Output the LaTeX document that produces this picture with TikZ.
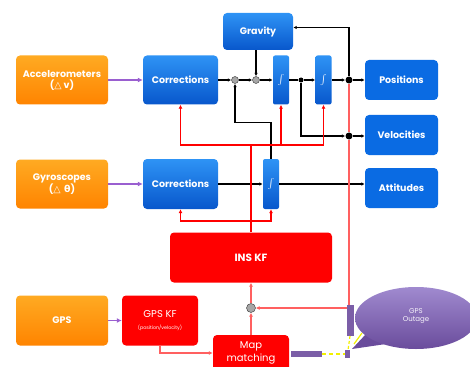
\documentclass[tikz,border=0pt]{standalone}
\usepackage{fontspec}
\setmainfont{Poppins}
\newfontfamily\symfont{DejaVu Sans}
\usetikzlibrary{arrows.meta}
\definecolor{bluetop}{HTML}{2E93F5}
\definecolor{bluebot}{HTML}{0857CC}
\definecolor{outblue}{HTML}{0A6BE3}
\definecolor{orangetop}{HTML}{FFAA22}
\definecolor{orangebot}{HTML}{FF8400}
\definecolor{kfred}{HTML}{FF0000}
\definecolor{lightred}{HTML}{FF6060}
\definecolor{feedpurple}{HTML}{9A5FD0}
\definecolor{bubbletop}{HTML}{A08ACF}
\definecolor{bubblebot}{HTML}{6A4C9C}
\definecolor{barpurple}{HTML}{7B5EA7}
\definecolor{dashyellow}{HTML}{F2F000}
\begin{document}
\begin{tikzpicture}[
        x=1pt,
        y=-1pt,
        blk/.style={rounded corners=4pt, text=white, align=center, inner sep=0pt,
            font=\bfseries\fontsize{9.5}{11}\selectfont},
        sensor/.style={blk, top color=orangetop, bottom color=orangebot,
            minimum width=92pt, minimum height=49pt},
        proc/.style={blk, top color=bluetop, bottom color=bluebot,
            minimum width=75pt, minimum height=49pt},
        integ/.style={blk, rounded corners=2pt, top color=bluetop, bottom color=bluebot,
            minimum width=16pt, minimum height=49pt, font=\normalfont},
        outbox/.style={blk, fill=outblue, minimum width=73pt, minimum height=40pt},
        kf/.style={blk, fill=kfred, font=\fontsize{10}{12.5}\selectfont},
        sum/.style={circle, draw=black!80, fill=gray!70, inner sep=0pt, minimum size=7pt},
        jdot/.style={circle, fill=black, inner sep=0pt, minimum size=7pt},
        wire/.style={draw=black, line width=1.2pt, -{Latex[length=3.5pt,width=3.5pt]}},
        fb/.style={draw=kfred, line width=1.3pt, -{Latex[length=4pt,width=4pt]}},
        fblight/.style={fb, draw=lightred},
        feed/.style={draw=feedpurple, line width=1.3pt, -{Latex[length=5pt,width=5pt]}}]
\useasboundingbox (0,0) rectangle (470,366);
\clip (0,0) rectangle (470,366);

\node[sensor] (acc) at (62,80) {Accelerometers\\({\symfont △} v)};
\node[sensor] (gyro) at (62,184) {Gyroscopes\\({\symfont △ θ})};
\node[sensor, minimum height=50pt] (gps) at (62,320.5) {GPS};
\node[proc] (corr1) at (180.5,80) {Corrections};
\node[proc, minimum height=50pt] (corr2) at (180.5,184) {Corrections};
\node[proc, minimum width=70pt, minimum height=37pt] (grav) at (258,31.5) {Gravity};
\node[integ] (i1) at (281,80) {$\int$};
\node[integ] (i2) at (323.5,80) {$\int$};
\node[integ, minimum height=50pt] (i3) at (271,184) {$\int$};
\node[outbox] (pos) at (401.5,80) {Positions};
\node[outbox] (vel) at (401.5,135) {Velocities};
\node[outbox] (att) at (401.5,188) {Attitudes};
\node[kf, minimum width=162pt, minimum height=50pt, font=\bfseries\fontsize{10.5}{12}\selectfont] (ins) at (251,257.5) {INS KF};
\node[kf, minimum width=76pt, minimum height=50pt] (gpskf) at (160,320.5)
    {GPS KF\\[-1pt]{\fontsize{4.8}{5.5}\selectfont (position/velocity)}};
\node[kf, minimum width=76pt, minimum height=36pt] (mapm) at (251,353) {Map\\matching};

\node[sum] (s1) at (235,80) {};
\node[sum] (s2) at (256,80) {};
\node[jdot, minimum size=5pt] (j1) at (301,80) {};
\node[jdot] (jp) at (349,80) {};
\node[jdot] (jv) at (349,136) {};
\node[sum, minimum size=9pt] (sk) at (251,308) {};
\coordinate (bus1) at (251,145);
\coordinate (bus2) at (251,221);

\draw[feed] (acc) -- (corr1);
\draw[feed] (gyro) -- (corr2);
\draw[feed] (gps) -- (gpskf);

\draw[wire] (corr1) -- (s1);
\draw[wire] (s1) -- (s2);
\draw[wire] (s2) -- (i1);
\draw[wire] (i1) -- (j1) -- (i2);
\draw[wire] (i2) -- (jp);
\draw[wire] (jp) -- (pos);
\draw[wire] (grav.south -| s2) -- (s2);
\draw[wire] (jp) |- ([yshift=4pt]grav.east);
\draw[wire] (j1) |- (jv);
\draw[wire] (jv) -- (vel.west |- jv);
\draw[wire] (i3.north) -- ++(0,-36) -| (s1);
\draw[wire] (corr2) -- (i3);
\draw[wire] (i3) -- (att.west |- i3);

\draw[fb, -] (ins.north) -- (bus1);
\foreach \Target in {corr1, i1, i2}{
    \draw[fb] (bus1) -| (\Target);
}
\foreach \Target in {corr2, i3}{
    \draw[fb] (bus2) -| (\Target);
}
\draw[fblight, -] (jp) -- (jv);
\draw[fblight] (jv) |- (sk);
\draw[fblight] (mapm) -- (sk);
\draw[fblight] (sk) -- (ins);
\draw[fblight] (gpskf.south) |- (mapm.west);

\fill[bubblebot] (366,334) -- (352,349) -- (386,344) -- cycle;
\shade[top color=bubbletop, bottom color=bubblebot] (416,318) ellipse [x radius=61pt, y radius=31pt];
\node[text=white!90!bubbletop, font=\fontsize{7}{8.5}\selectfont, align=center] (outage) at (416,316) {GPS\\Outage};
\fill[barpurple] (347,305) rectangle (354,336);
\fill[barpurple] (291,351) rectangle (322,357);
\fill[barpurple] (345,350) rectangle (350,358);
\draw[dashyellow, line width=1.5pt, dash pattern=on 4pt off 3pt] (322,354) -- (345,354);
\draw[dashyellow, line width=1.2pt, dash pattern=on 3pt off 2pt] (350,336) -- (348,350);
\draw[dashyellow, line width=1.2pt] (354,344) -- (362,333);
\end{tikzpicture}
\end{document}
